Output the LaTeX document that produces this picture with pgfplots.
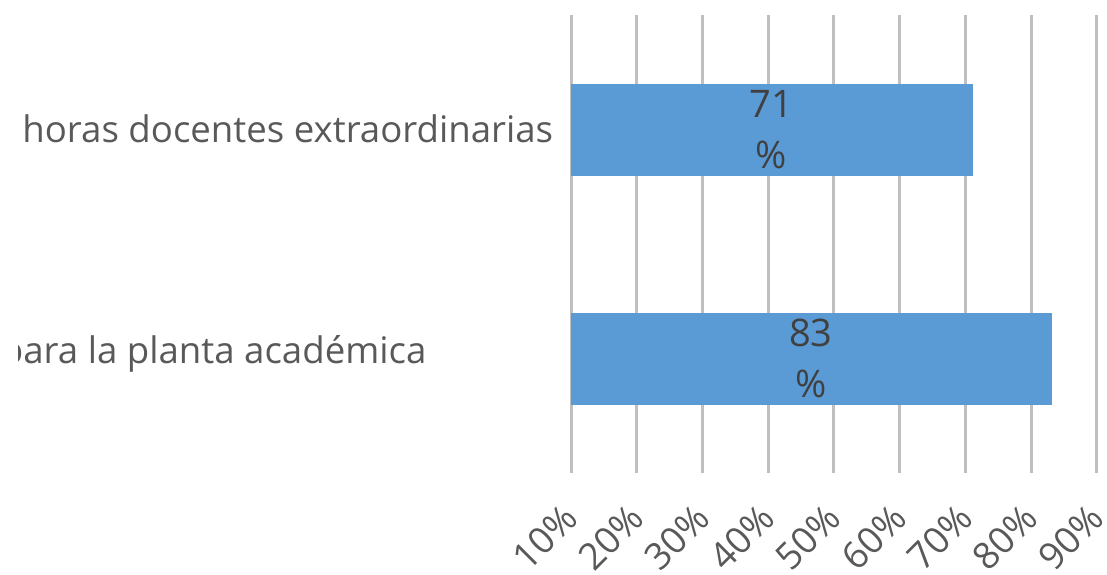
\documentclass[border=0pt]{standalone}
\usepackage{pgfplots}
\pgfplotsset{compat=1.18}
\usepackage{fontspec}
\setmainfont{Open Sans}
\definecolor{barblue}{HTML}{5B9BD5}
\definecolor{gridgray}{HTML}{BFBFBF}
\definecolor{labgray}{HTML}{595959}
\definecolor{valgray}{HTML}{404040}
\begin{document}
\begin{tikzpicture}
\begin{axis}[
    scale only axis, width=263pt, height=229pt,
    at={(0,0)}, anchor=south west,
    xmin=0.1, xmax=0.9, ymin=-0.5, ymax=1.5,
    xbar, bar width=45.5pt,
    xtick={0.1,0.2,0.3,0.4,0.5,0.6,0.7,0.8,0.9},
    xticklabels={10\%,20\%,30\%,40\%,50\%,60\%,70\%,80\%,90\%},
    ytick={0,1}, yticklabels={,},
    xmajorgrids, grid style={draw=gridgray, line width=1.5pt},
    axis line style={draw=none}, tick style={draw=none},
    xticklabel style={font=\fontsize{18.5}{18.5}\selectfont, text=labgray,
        xshift=0pt, yshift=-19pt, rotate=45, anchor=east, inner sep=0pt},
]
\addplot[fill=barblue, draw=barblue] coordinates {(0.83,0) (0.71,1)};
\node[font=\fontsize{19}{25.5}\selectfont, text=valgray, align=center] at (axis cs:0.405,1) {71\\\%};
\node[font=\fontsize{19}{25.5}\selectfont, text=valgray, align=center] at (axis cs:0.465,0) {83\\\%};
\end{axis}
\node[anchor=base west, font=\fontsize{18.3}{20}\selectfont, text=labgray, inner sep=0pt] at (-274.5pt,165pt) {horas docentes extraordinarias};
\node[anchor=base west, font=\fontsize{18.3}{20}\selectfont, text=labgray, inner sep=0pt] at (-274pt,55pt) {\llap{p}ara la planta académica};
\fill[white] (-300pt,40pt) rectangle (-276.5pt,80pt);
\pgfresetboundingbox
\path[use as bounding box] (-285.5pt,-50.5pt) rectangle (268pt,236.5pt);
\end{tikzpicture}
\end{document}
